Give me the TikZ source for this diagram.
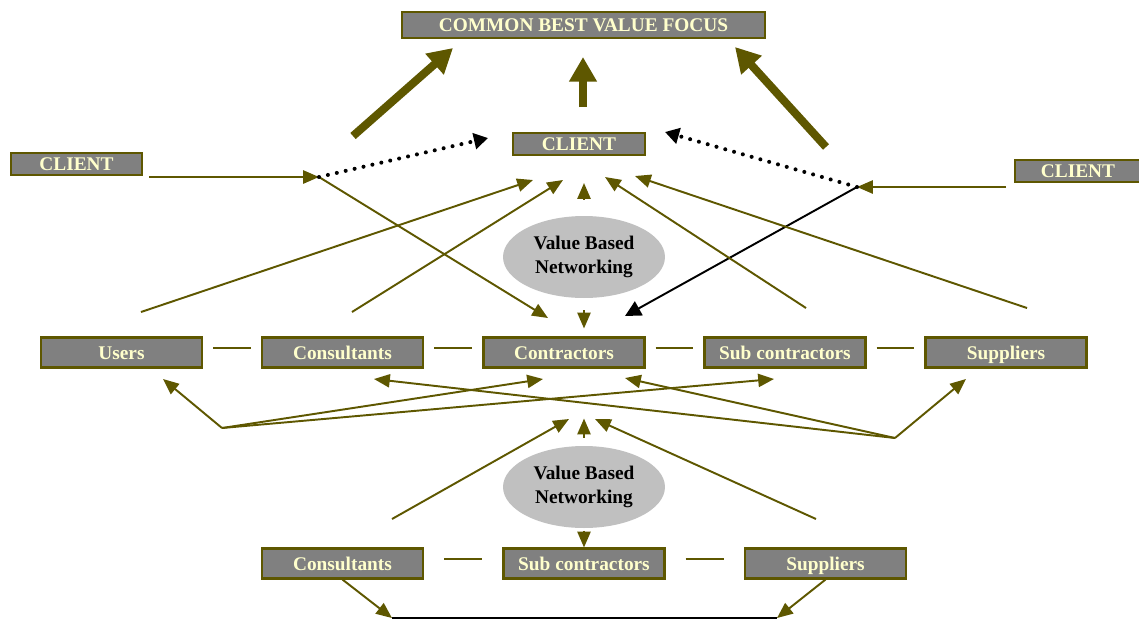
\documentclass[tikz,border=0pt]{standalone}
\usepackage{fontspec}
\setmainfont{Liberation Serif}
\usetikzlibrary{arrows.meta,shapes.geometric}

\definecolor{olivebrun}{RGB}{94,87,0}
\definecolor{grisboite}{RGB}{128,128,128}
\definecolor{creme}{RGB}{255,255,204}
\definecolor{grisovale}{RGB}{192,192,192}

\tikzset{
  boite/.style={draw=olivebrun,line width=1.2pt,fill=grisboite,text=creme,
    font=\bfseries\fontsize{11}{13}\selectfont,text height=7.4pt,text depth=0pt,
    minimum width=3.22cm,minimum height=0.6cm,inner sep=0pt},
  ovale/.style={ellipse,fill=grisovale,font=\bfseries\fontsize{11}{13.6}\selectfont,
    align=center,minimum width=3.24cm,minimum height=1.64cm,inner sep=0pt},
  fleche/.style={color=olivebrun,line width=1.1pt,->,>={Triangle[length=9pt,width=7.5pt]}},
  grosse/.style={color=olivebrun,line width=4.6pt,->,>={Triangle[length=14pt,width=15pt]}},
  noire/.style={black,line width=1.1pt,->,>={Triangle[length=9pt,width=9pt]}},
  pointille/.style={black,line width=2.3pt,line cap=round,dash pattern=on 0pt off 5.2pt,
    ->,>={Triangle[length=8pt,width=9pt]}},
  tiret/.style={color=olivebrun,line width=1.4pt},
}

\begin{document}
\begin{tikzpicture}[x=0.02cm,y=-0.02cm] % 1 unité = 1 pixel de l'image
\useasboundingbox (0,0) rectangle (1139,620);
% les boîtes du haut
\node[boite,minimum width=7.26cm,minimum height=0.52cm] (focus) at (583.5,25) {COMMON BEST VALUE FOCUS};
\node[boite,minimum width=2.64cm,minimum height=0.44cm] (client) at (579,144) {CLIENT};
\node[boite,minimum width=2.62cm,minimum height=0.44cm] (clientG) at (76.5,164) {CLIENT};
\node[boite,minimum width=2.52cm,minimum height=0.44cm] (clientD) at (1078,171) {CLIENT};
% la rangée du milieu
\node[boite] (users) at (121.5,352.5) {Users};
\node[boite] (cons) at (342.5,352.5) {Consultants};
\node[boite] (contr) at (564,352.5) {Contractors};
\node[boite] (sub) at (785,352.5) {Sub contractors};
\node[boite] (supp) at (1006,352.5) {Suppliers};
% la rangée du bas
\node[boite] (cons2) at (342.5,563.5) {Consultants};
\node[boite] (sub2) at (584,563.5) {Sub contractors};
\node[boite] (supp2) at (825.5,563.5) {Suppliers};
% les ovales
\node[ovale] (vbn) at (584,257) {Value Based\\Networking};
\node[ovale] (vbn2) at (584,487) {Value Based\\Networking};

% extrémités libres des flèches
\coordinate (sG) at (149,177);
\coordinate (jG) at (319,177);
\coordinate (cG) at (488,138);
\coordinate (kG) at (548,318);
\coordinate (sD) at (1006,187);
\coordinate (jD) at (857,187);
\coordinate (cD) at (665,132);
\coordinate (kD) at (625,316);
\coordinate (g1) at (353,136);
\coordinate (f1) at (453,48);
\coordinate (g2) at (583,107);
\coordinate (f2) at (583,57);
\coordinate (g3) at (826,147);
\coordinate (f3) at (735,47);
\coordinate (a1) at (141,312);
\coordinate (b1) at (533,180);
\coordinate (a2) at (352,312);
\coordinate (b2) at (563,180);
\coordinate (a3) at (806,308);
\coordinate (b3) at (605,177);
\coordinate (a4) at (1027,308);
\coordinate (b4) at (635,176);
\coordinate (hubG) at (222,428);
\coordinate (hubD) at (895,438);
\coordinate (pUsers) at (163,379);
\coordinate (pContrG) at (543,379);
\coordinate (pSub) at (774,379);
\coordinate (pSupp) at (966,379);
\coordinate (pCons) at (374,379);
\coordinate (pContrD) at (625,378);
\coordinate (d1) at (392,519);
\coordinate (e1) at (569,419);
\coordinate (d2) at (816,519);
\coordinate (e2) at (595,419);
\coordinate (bG) at (392,618);
\coordinate (bD) at (777,618);

% les grosses flèches vers le haut
\draw[grosse] (g1)--(f1);
\draw[grosse] (g2)--(f2);
\draw[grosse] (g3)--(f3);
% les clients des côtés
\draw[fleche] (sG)--(jG);
\draw[fleche] (jG)--(kG);
\draw[pointille] (jG)--(cG);
\draw[fleche] (sD)--(jD);
\draw[noire] (jD)--(kD);
\draw[pointille] (jD)--(cD);
% vers le client du centre
\draw[fleche] (a1)--(b1);
\draw[fleche] (a2)--(b2);
\draw[fleche] (a3)--(b3);
\draw[fleche] (a4)--(b4);
\draw[fleche,shorten <=0.32cm,shorten >=0.54cm] (vbn.north)--(vbn.north |- client.south);
\draw[fleche,shorten <=0.24cm,shorten >=0.16cm] (vbn.south)--(vbn.south |- contr.north);
% les tirets entre les boîtes
\draw[tiret,shorten <=0.2cm,shorten >=0.2cm] ([yshift=2.5pt]users.east)--([yshift=2.5pt]cons.west);
\draw[tiret,shorten <=0.2cm,shorten >=0.2cm] ([yshift=2.5pt]cons.east)--([yshift=2.5pt]contr.west);
\draw[tiret,shorten <=0.2cm,shorten >=0.2cm] ([yshift=2.5pt]contr.east)--([yshift=2.5pt]sub.west);
\draw[tiret,shorten <=0.2cm,shorten >=0.2cm] ([yshift=2.5pt]sub.east)--([yshift=2.5pt]supp.west);
\draw[tiret,shorten <=0.4cm,shorten >=0.4cm] ([yshift=2.5pt]cons2.east)--([yshift=2.5pt]sub2.west);
\draw[tiret,shorten <=0.4cm,shorten >=0.4cm] ([yshift=2.5pt]sub2.east)--([yshift=2.5pt]supp2.west);
% sous la rangée du milieu
\draw[fleche] (hubG)--(pUsers);
\draw[fleche] (hubG)--(pContrG);
\draw[fleche] (hubG)--(pSub);
\draw[fleche] (hubD)--(pSupp);
\draw[fleche] (hubD)--(pCons);
\draw[fleche] (hubD)--(pContrD);
% autour de l'ovale du bas
\draw[fleche] (d1)--(e1);
\draw[fleche] (d2)--(e2);
\draw[fleche,shorten <=0.16cm,shorten >=1cm] (vbn2.north)--(vbn2.north |- contr.south);
\draw[fleche,shorten <=0.05cm] (vbn2.south)--(sub2.north);
% le trait du bas
\draw[fleche] (cons2.south)--(bG);
\draw[fleche] (supp2.south)--(bD);
\draw[black,line width=1.3pt] (bG)--(bD);
\end{tikzpicture}
\end{document}
